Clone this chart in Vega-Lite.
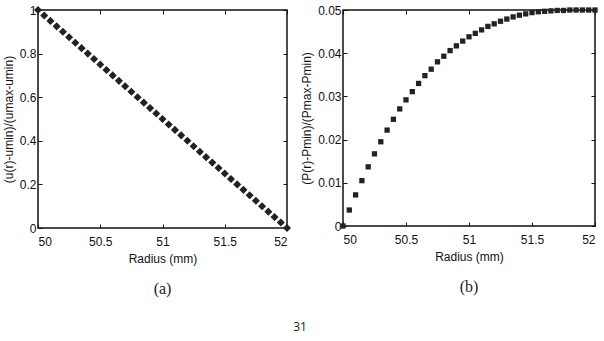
{
  "$schema": "https://vega.github.io/schema/vega-lite/v6.json",
  "padding": {"left": 1, "top": 3, "right": 4, "bottom": 8},
  "background": "white",
  "datasets": {
    "u": [
      {"r": 50.00, "v": 1.000}, {"r": 50.05, "v": 0.975}, {"r": 50.10, "v": 0.950}, {"r": 50.15, "v": 0.925},
      {"r": 50.20, "v": 0.900}, {"r": 50.25, "v": 0.875}, {"r": 50.30, "v": 0.850}, {"r": 50.35, "v": 0.825},
      {"r": 50.40, "v": 0.800}, {"r": 50.45, "v": 0.775}, {"r": 50.50, "v": 0.750}, {"r": 50.55, "v": 0.725},
      {"r": 50.60, "v": 0.700}, {"r": 50.65, "v": 0.675}, {"r": 50.70, "v": 0.650}, {"r": 50.75, "v": 0.625},
      {"r": 50.80, "v": 0.600}, {"r": 50.85, "v": 0.575}, {"r": 50.90, "v": 0.550}, {"r": 50.95, "v": 0.525},
      {"r": 51.00, "v": 0.500}, {"r": 51.05, "v": 0.475}, {"r": 51.10, "v": 0.450}, {"r": 51.15, "v": 0.425},
      {"r": 51.20, "v": 0.400}, {"r": 51.25, "v": 0.375}, {"r": 51.30, "v": 0.350}, {"r": 51.35, "v": 0.325},
      {"r": 51.40, "v": 0.300}, {"r": 51.45, "v": 0.275}, {"r": 51.50, "v": 0.250}, {"r": 51.55, "v": 0.225},
      {"r": 51.60, "v": 0.200}, {"r": 51.65, "v": 0.175}, {"r": 51.70, "v": 0.150}, {"r": 51.75, "v": 0.125},
      {"r": 51.80, "v": 0.100}, {"r": 51.85, "v": 0.075}, {"r": 51.90, "v": 0.050}, {"r": 51.95, "v": 0.025},
      {"r": 52.00, "v": 0.000}
    ],
    "p": [
      {"r": 50.00, "v": 0.0000}, {"r": 50.05, "v": 0.0037}, {"r": 50.10, "v": 0.0072}, {"r": 50.15, "v": 0.0105},
      {"r": 50.20, "v": 0.0137}, {"r": 50.25, "v": 0.0167}, {"r": 50.30, "v": 0.0195}, {"r": 50.35, "v": 0.0222},
      {"r": 50.40, "v": 0.0247}, {"r": 50.45, "v": 0.0271}, {"r": 50.50, "v": 0.0292}, {"r": 50.55, "v": 0.0311},
      {"r": 50.60, "v": 0.0330}, {"r": 50.65, "v": 0.0348}, {"r": 50.70, "v": 0.0363}, {"r": 50.75, "v": 0.0380},
      {"r": 50.80, "v": 0.0393}, {"r": 50.85, "v": 0.0406}, {"r": 50.90, "v": 0.0417}, {"r": 50.95, "v": 0.0428},
      {"r": 51.00, "v": 0.0438}, {"r": 51.05, "v": 0.0446}, {"r": 51.10, "v": 0.0454}, {"r": 51.15, "v": 0.0462},
      {"r": 51.20, "v": 0.0468}, {"r": 51.25, "v": 0.0474}, {"r": 51.30, "v": 0.0479}, {"r": 51.35, "v": 0.0484},
      {"r": 51.40, "v": 0.0488}, {"r": 51.45, "v": 0.0491}, {"r": 51.50, "v": 0.0494}, {"r": 51.55, "v": 0.0496},
      {"r": 51.60, "v": 0.0497}, {"r": 51.65, "v": 0.0498}, {"r": 51.70, "v": 0.0499}, {"r": 51.75, "v": 0.0499},
      {"r": 51.80, "v": 0.0500}, {"r": 51.85, "v": 0.0500}, {"r": 51.90, "v": 0.0500}, {"r": 51.95, "v": 0.0500},
      {"r": 52.00, "v": 0.0500}
    ]
  },
  "title": {"text": "31", "orient": "bottom", "anchor": "middle", "font": "Open Sans", "fontSize": 12, "fontWeight": "normal", "color": "#222", "offset": 24},
  "spacing": 7,
  "hconcat": [
    {
      "width": 249,
      "height": 218,
      "title": {"text": "(a)", "orient": "bottom", "font": "Liberation Serif", "fontSize": 16, "fontWeight": "normal", "color": "#222", "offset": 17},
      "data": {"name": "u"},
      "resolve": {"axis": {"x": "independent", "y": "independent"}},
      "layer": [
        {
          "mark": {"type": "point", "shape": "diamond", "filled": true, "color": "#222", "size": 65, "opacity": 1},
          "encoding": {
            "x": {"field": "r", "type": "quantitative", "scale": {"domain": [50, 52], "nice": false, "zero": false},
                  "axis": {"title": "Radius (mm)", "values": [50, 50.5, 51, 51.5, 52], "format": "~g"}},
            "y": {"field": "v", "type": "quantitative", "scale": {"domain": [0, 1], "nice": false},
                  "axis": {"title": "(u(r)-umin)/(umax-umin)", "values": [0, 0.2, 0.4, 0.6, 0.8, 1], "format": "~g"}}
          }
        },
        {
          "mark": {"type": "point", "opacity": 0},
          "encoding": {
            "x": {"field": "r", "type": "quantitative", "axis": {"orient": "top", "labels": false, "title": null, "values": [50, 50.5, 51, 51.5, 52]}},
            "y": {"field": "v", "type": "quantitative", "axis": {"orient": "right", "labels": false, "title": null, "values": [0, 0.2, 0.4, 0.6, 0.8, 1]}}
          }
        }
      ]
    },
    {
      "width": 252,
      "height": 216,
      "title": {"text": "(b)", "orient": "bottom", "font": "Liberation Serif", "fontSize": 16, "fontWeight": "normal", "color": "#222", "offset": 17},
      "data": {"name": "p"},
      "resolve": {"axis": {"x": "independent", "y": "independent"}},
      "layer": [
        {
          "mark": {"type": "square", "filled": true, "color": "#222", "size": 28, "opacity": 1},
          "encoding": {
            "x": {"field": "r", "type": "quantitative", "scale": {"domain": [50, 52], "nice": false, "zero": false},
                  "axis": {"title": "Radius (mm)", "values": [50, 50.5, 51, 51.5, 52], "format": "~g"}},
            "y": {"field": "v", "type": "quantitative", "scale": {"domain": [0, 0.05], "nice": false},
                  "axis": {"title": "(P(r)-Pmin)/(Pmax-Pmin)", "values": [0, 0.01, 0.02, 0.03, 0.04, 0.05], "format": "~g"}}
          }
        },
        {
          "mark": {"type": "point", "opacity": 0},
          "encoding": {
            "x": {"field": "r", "type": "quantitative", "axis": {"orient": "top", "labels": false, "title": null, "values": [50, 50.5, 51, 51.5, 52]}},
            "y": {"field": "v", "type": "quantitative", "axis": {"orient": "right", "labels": false, "title": null, "values": [0, 0.01, 0.02, 0.03, 0.04, 0.05]}}
          }
        }
      ]
    }
  ],
  "config": {
    "view": {"stroke": "#111", "strokeWidth": 1.5},
    "axis": {
      "domain": false,
      "grid": false,
      "ticks": true,
      "tickSize": -4,
      "tickColor": "#111",
      "tickWidth": 1,
      "labelFont": "Liberation Sans",
      "labelFontSize": 12,
      "labelColor": "#111",
      "labelPadding": 6,
      "titleFont": "Liberation Sans",
      "titleFontSize": 12,
      "titleFontWeight": "normal",
      "titleColor": "#111",
      "titlePadding": 4
    },
    "axisX": {"labelPadding": 12, "titlePadding": 6}
  }
}
